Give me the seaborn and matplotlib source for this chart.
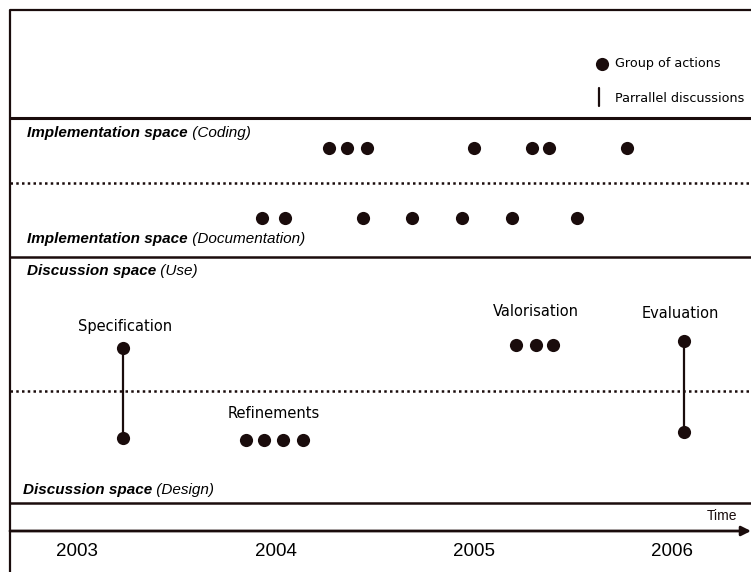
import matplotlib
matplotlib.use("Agg")
import matplotlib.pyplot as plt
import seaborn as sns
import pandas as pd

sns.set_theme(style="white")
plt.rcParams['font.family'] = ['DejaVu Sans']

# ---------------- data ----------------
years = [2003, 2004, 2005, 2006]
coding_t = [2004.27, 2004.36, 2004.46, 2005.00, 2005.29, 2005.38, 2005.77]
documentation_t = [2003.93, 2004.05, 2004.44, 2004.69, 2004.94, 2005.19, 2005.52]
valorisation_t = [2005.21, 2005.31, 2005.40]
refinements_t = [2003.85, 2003.94, 2004.04, 2004.14]
parallel_t = [2003.23, 2006.06]            # Specification, Evaluation
parallel_names = ["Specification", "Evaluation"]

# ---------------- layout (pixel rows) ----------------
W, H = 751, 572
X0_PX, PX_PER_YEAR = 77, 198.5
lane_y = {"Coding": 148, "Documentation": 218, "Use": 345, "Design": 440}
ink = "#1a0c0c"

fig = plt.figure(figsize=(W / 100, H / 100), dpi=100)
ax = fig.add_axes([0, 0, 1, 1])
xmin = 2003 - X0_PX / PX_PER_YEAR
xmax = 2003 + (W - X0_PX) / PX_PER_YEAR
ax.set_xlim(xmin, xmax)
ax.set_ylim(H, 0)
ax.axis("off")

def px2x(px):
    return xmin + px / PX_PER_YEAR

# frame
ax.plot([px2x(10), px2x(10)], [10, H], color=ink, lw=1.6, solid_capstyle="butt")
ax.plot([px2x(10), xmax], [10, 10], color=ink, lw=1.6)
for y, lw, ls in [(118, 2.2, "-"), (257, 1.8, "-"), (503, 1.8, "-")]:
    ax.plot([px2x(10), xmax], [y, y], color=ink, lw=lw, ls=ls)
for y in [183, 391]:
    ax.plot([px2x(10), xmax], [y, y], color=ink, lw=1.8, ls=(0, (1, 1.3)))

# time arrow
ax.annotate("", xy=(xmax, 531), xytext=(px2x(10), 531),
            arrowprops=dict(arrowstyle="-|>", color=ink, lw=2, mutation_scale=14,
                            shrinkA=0, shrinkB=0))
ax.text(px2x(737), 516, "Time", ha="right", va="center", fontsize=10,
        family="Liberation Sans", color=ink)
for yr in years:
    ax.text(yr, 551, str(yr), ha="center", va="center", fontsize=13.5,
            family="Liberation Sans", color="black")

# dots
rows = []
for t in coding_t:
    rows.append((t, lane_y["Coding"]))
for t in documentation_t:
    rows.append((t, lane_y["Documentation"]))
for t in valorisation_t:
    rows.append((t, lane_y["Use"]))
for t in refinements_t:
    rows.append((t, lane_y["Design"]))
df = pd.DataFrame(rows, columns=["time", "lane"])
sns.scatterplot(data=df, x="time", y="lane", ax=ax, s=90, color=ink,
                edgecolor=ink, linewidth=0, legend=False, zorder=3)

# parallel discussions
par_top = [348, 341]
par_bot = [438, 432]
for t, top, bot in zip(parallel_t, par_top, par_bot):
    ax.plot([t, t], [top, bot], color=ink, lw=1.6, zorder=2)
    sns.scatterplot(x=[t, t], y=[top, bot], ax=ax, s=90, color=ink,
                    linewidth=0, legend=False, zorder=3)

# labels
lab_fs = 10.5
ax.text(parallel_t[0] + 0.01, 326, parallel_names[0], ha="center", va="center",
        fontsize=lab_fs, color="black")
ax.text(parallel_t[1] - 0.02, 313, parallel_names[1], ha="center", va="center",
        fontsize=lab_fs, color="black")
ax.text(valorisation_t[1], 311, "Valorisation", ha="center", va="center",
        fontsize=lab_fs, color="black")
ax.text(2003.99, 413, "Refinements", ha="center", va="center",
        fontsize=lab_fs, color="black")

def space_label(px, py, bold, ital):
    t1 = ax.text(px2x(px), py, bold, ha="left", va="center", fontsize=11,
                 family="Liberation Sans", weight="bold", style="italic", color="black")
    ax.annotate(" " + ital, xy=(1, 0), xycoords=t1, ha="left", va="bottom",
                fontsize=11, family="Liberation Sans", style="italic", color="black")

space_label(27, 133, "Implementation space", "(Coding)")
space_label(27, 239, "Implementation space", "(Documentation)")
space_label(27, 271, "Discussion space", "(Use)")
space_label(23, 490, "Discussion space", "(Design)")

# legend
sns.scatterplot(x=[px2x(602)], y=[64], ax=ax, s=90, color=ink, linewidth=0,
                legend=False, zorder=3)
ax.text(px2x(615), 64, "Group of actions", ha="left", va="center", fontsize=9.2, color="black")
ax.plot([px2x(599), px2x(599)], [88, 106], color=ink, lw=1.6)
ax.text(px2x(615), 98, "Parrallel discussions", ha="left", va="center", fontsize=9.2, color="black")

fig.savefig("out.png", dpi=100)
